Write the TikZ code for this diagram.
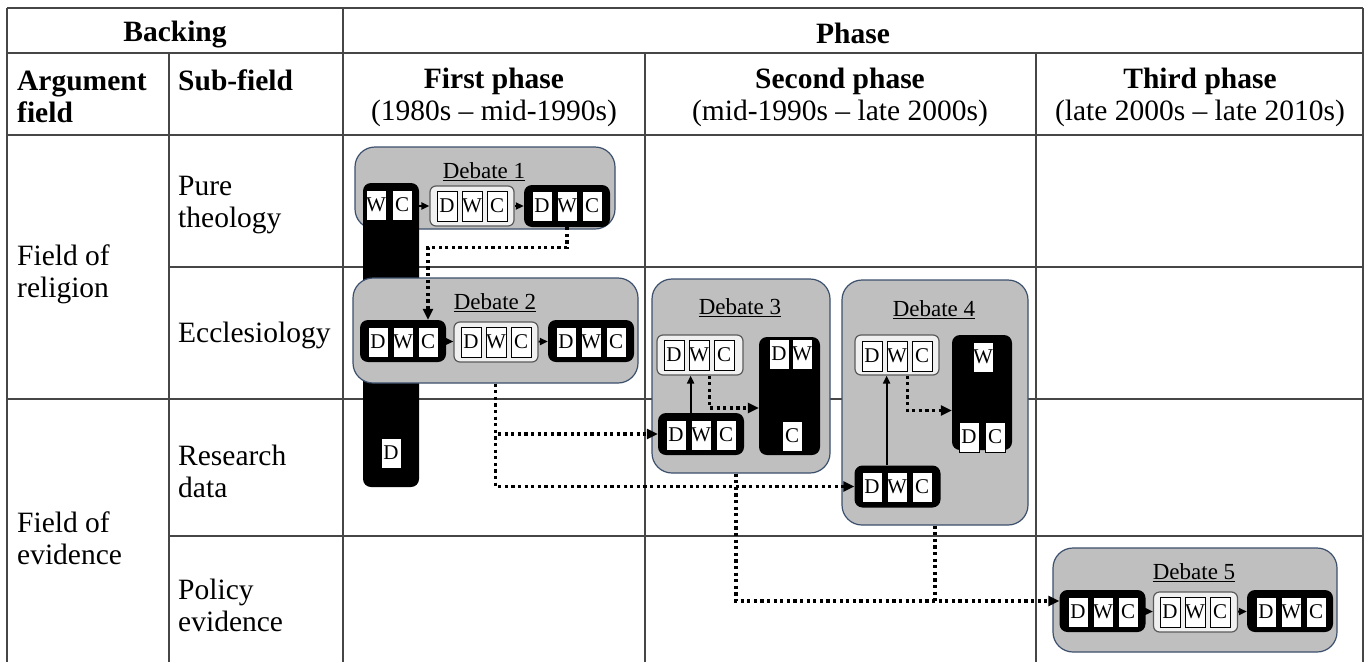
\documentclass[tikz,border=0pt]{standalone}
\usepackage{fontspec}
\setmainfont{Liberation Serif}
\usetikzlibrary{arrows.meta}
\definecolor{tabLine}{RGB}{70,70,70}
\definecolor{debFill}{RGB}{191,191,191}
\definecolor{debEdge}{RGB}{60,80,110}
\definecolor{paleFill}{RGB}{240,240,240}
\definecolor{paleEdge}{RGB}{90,90,90}

\begin{document}
\begin{tikzpicture}[
    x=1pt, y=-1pt,
    tabrule/.style={draw=tabLine, line width=1.3pt},
    headtext/.style={font=\fontsize{29.5}{32}\selectfont, inner sep=0pt, align=center},
    rowtext/.style={font=\fontsize{29.5}{32}\selectfont, inner sep=0pt, align=left, anchor=west},
    debatebox/.style={draw=debEdge, line width=1.2pt, fill=debFill, rounded corners=20pt},
    debtitle/.style={font=\fontsize{23}{24}\selectfont, inner sep=0pt},
    solidbox/.style={fill=black, rounded corners=8pt, minimum width=86pt, minimum height=42pt},
    palebox/.style={draw=paleEdge, line width=1.2pt, fill=paleFill, rounded corners=6pt, minimum width=84pt, minimum height=40pt},
    slot/.style={draw=black, line width=0.8pt, fill=white, minimum width=20pt, minimum height=30pt, inner sep=0pt, font=\fontsize{21}{21}\selectfont},
    flow/.style={-{Triangle[length=8pt,width=7pt]}, line width=1.9pt},
    dotlink/.style={line width=3.2pt, dash pattern=on 3.2pt off 3.4pt},
    dotflow/.style={dotlink, -{Triangle[length=11pt,width=10pt]}}
]
  \useasboundingbox[fill=white] (0,0) rectangle (1368,662);

  % table rules
  \draw[tabrule] (7,8) -- (1363,8);
  \draw[tabrule] (7,53) -- (1363,53);
  \draw[tabrule] (7,135) -- (1363,135);
  \draw[tabrule] (169,267) -- (1363,267);
  \draw[tabrule] (7,399) -- (1363,399);
  \draw[tabrule] (169,536) -- (1363,536);
  \foreach \x in {7,343,1363} \draw[tabrule] (\x,8) -- (\x,662);
  \foreach \x in {169,645,1036} \draw[tabrule] (\x,53) -- (\x,662);

  % headings
  \node[headtext] (backing) at (175,35) {\textbf{Backing}};
  \node[headtext] (phase) at (853,33) {\textbf{Phase}};
  \node[rowtext] (argfield) at (17,97) {\textbf{Argument}\\\textbf{field}};
  \node[rowtext] (subfield) at (178,80) {\textbf{Sub-field}};
  \node[headtext] (first) at (494,97) {\textbf{First phase}\\(1980s -- mid-1990s)};
  \node[headtext] (second) at (840,97) {\textbf{Second phase}\\(mid-1990s -- late 2000s)};
  \node[headtext] (third) at (1200,97) {\textbf{Third phase}\\(late 2000s -- late 2010s)};

  % row labels
  \node[rowtext] (religion) at (17,274) {Field of\\religion};
  \node[rowtext] (evidence) at (17,538) {Field of\\evidence};
  \node[rowtext] (pure) at (178,205) {Pure\\theology};
  \node[rowtext] (eccl) at (178,335) {Ecclesiology};
  \node[rowtext] (research) at (178,471) {Research\\data};
  \node[rowtext] (policy) at (178,605) {Policy\\evidence};

  % debate 1
  \node[debatebox, minimum width=260pt, minimum height=82pt] (deb1) at (485,188) {};
  \node[debtitle] (deb1t) at (484,172) {\underline{Debate 1}};
  \node[solidbox, minimum width=56pt, minimum height=304pt] (d1in) at (391,335) {};
  \node[slot] (d1inW) at (376,205) {W};
  \node[slot] (d1inC) at (402,205) {C};
  \node[slot] (d1inD) at (391,453) {D};
  \node[palebox] (d1mid) at (472,206) {};
  \foreach \s/\x in {D/447,W/472,C/497} \node[slot] (d1mid\s) at (\x,206) {\s};
  \node[solidbox] (d1out) at (567,206) {};
  \foreach \s/\x in {D/542,W/567,C/592} \node[slot] (d1out\s) at (\x,206) {\s};
  \draw[flow] (d1mid.west -| d1in.east) -- (d1mid);
  \draw[flow] (d1mid) -- (d1out);

  % debate 2
  \node[debatebox, minimum width=285pt, minimum height=105pt] (deb2) at (495.5,330.5) {};
  \node[debtitle] (deb2t) at (495,303) {\underline{Debate 2}};
  \node[solidbox] (d2in) at (403,341) {};
  \foreach \s/\x in {D/378,W/403,C/428} \node[slot] (d2in\s) at (\x,342) {\s};
  \node[palebox] (d2mid) at (496,342) {};
  \foreach \s/\x in {D/471,W/496,C/521} \node[slot] (d2mid\s) at (\x,342) {\s};
  \node[solidbox] (d2out) at (591,341) {};
  \foreach \s/\x in {D/566,W/591,C/616} \node[slot] (d2out\s) at (\x,342) {\s};
  \draw[flow] (d2in) -- (d2mid);
  \draw[flow] (d2mid) -- (d2out);

  % debate 3
  \node[debatebox, minimum width=178pt, minimum height=194pt] (deb3) at (741,376) {};
  \node[debtitle] (deb3t) at (740,308) {\underline{Debate 3}};
  \node[palebox, minimum width=86pt] (d3mid) at (700,355) {};
  \foreach \s/\x in {D/674,W/699,C/724} \node[slot] (d3mid\s) at (\x,355) {\s};
  \node[solidbox] (d3in) at (701,434) {};
  \foreach \s/\x in {D/676,W/701,C/726} \node[slot] (d3in\s) at (\x,435) {\s};
  \node[solidbox, minimum width=61pt, minimum height=118pt] (d3out) at (789.5,396) {};
  \node[slot] (d3outD) at (779,354) {D};
  \node[slot] (d3outW) at (802,354) {W};
  \node[slot] (d3outC) at (792,436) {C};
  \draw[flow] (d3in.north -| d3inW.west) -- (d3mid.south -| d3inW.west);

  % debate 4
  \node[debatebox, minimum width=186pt, minimum height=245pt] (deb4) at (935,402.5) {};
  \node[debtitle] (deb4t) at (934,310) {\underline{Debate 4}};
  \node[palebox] (d4mid) at (897,355) {};
  \foreach \s/\x in {D/872,W/897,C/922} \node[slot] (d4mid\s) at (\x,356) {\s};
  \node[solidbox, minimum width=60pt, minimum height=115pt] (d4out) at (982,392.5) {};
  \node[slot] (d4outW) at (983,357) {W};
  \node[slot] (d4outD) at (969,437) {D};
  \node[slot] (d4outC) at (995,437) {C};
  \node[solidbox] (d4in) at (897.5,486.5) {};
  \foreach \s/\x in {D/872,W/897,C/922} \node[slot] (d4in\s) at (\x,487) {\s};
  \draw[flow] (d4in.north -| d4inW.west) -- (d4mid.south -| d4inW.west);

  % debate 5
  \node[debatebox, minimum width=284pt, minimum height=104pt] (deb5) at (1195,600) {};
  \node[debtitle] (deb5t) at (1194,573) {\underline{Debate 5}};
  \node[solidbox] (d5in) at (1102.5,611) {};
  \foreach \s/\x in {D/1078,W/1103,C/1128} \node[slot] (d5in\s) at (\x,612) {\s};
  \node[palebox] (d5mid) at (1195.5,612) {};
  \foreach \s/\x in {D/1170,W/1195,C/1220} \node[slot] (d5mid\s) at (\x,612) {\s};
  \node[solidbox] (d5out) at (1290,611) {};
  \foreach \s/\x in {D/1266,W/1291,C/1316} \node[slot] (d5out\s) at (\x,612) {\s};
  \draw[flow] (d5in) -- (d5mid);
  \draw[flow] (d5mid) -- (d5out);

  % dotted links between debates
  \draw[dotflow] (d1out.south -| d1outW) -- ++(0,20) -| (d2in.north -| d2inC);
  \draw[dotflow] (deb2.south) |- (d3in);
  \draw[dotflow] (deb2.south) |- (d4in);
  \draw[dotflow] (d3mid.south -| d3midW.east) |- ([yshift=-12pt]d3out.west);
  \draw[dotflow] (d4mid.south -| d4midW.east) |- ([yshift=-18pt]d4out.west);
  \coordinate (d5entry) at ([yshift=10pt]d5in.west);
  \draw[dotflow] ([xshift=-5pt]deb3.south) |- (d5entry);
  \draw[dotlink] (deb4.south) -- (deb4.south |- d5entry);
\end{tikzpicture}
\end{document}
